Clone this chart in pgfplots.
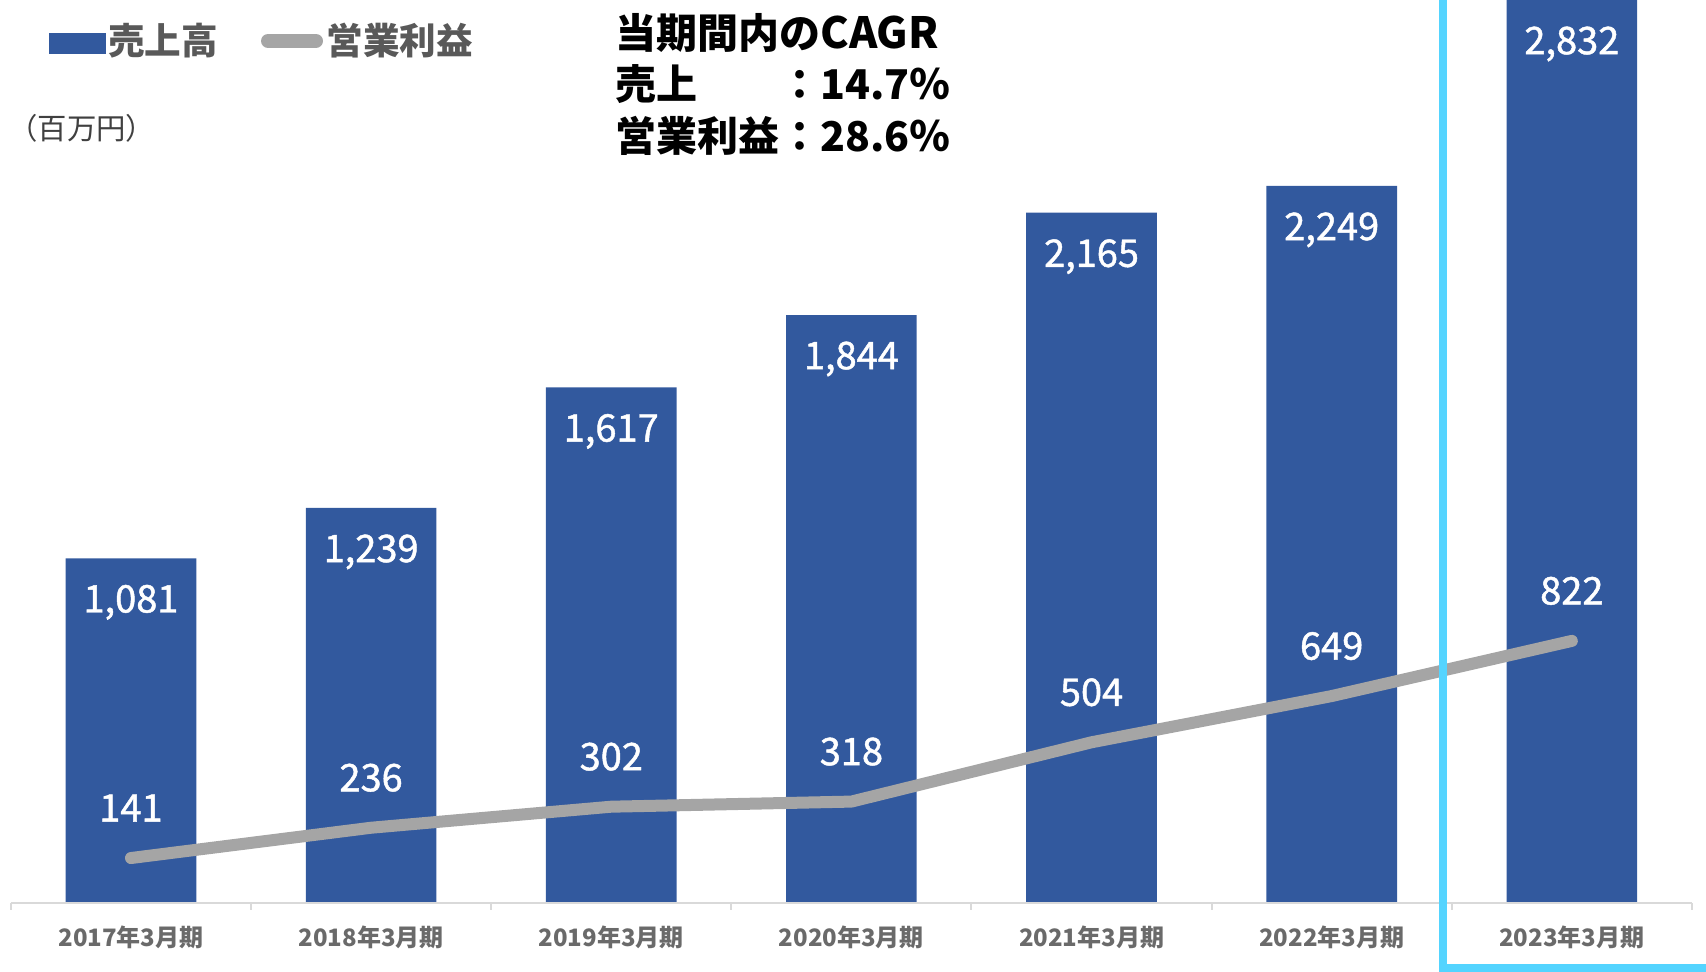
\documentclass[border=0pt]{standalone}
\usepackage{fontspec}
\setmainfont{Noto Sans CJK JP}
\newfontfamily\numfont{Noto Sans CJK JP}[FakeBold=1.2]
\usepackage{pgfplots}
\pgfplotsset{compat=1.18}
\usepackage{pgfplotstable}
\definecolor{barblue}{RGB}{50,89,158}
\definecolor{linegray}{RGB}{165,165,165}
\definecolor{axisgray}{RGB}{217,217,217}
\definecolor{labgray}{RGB}{89,89,89}
\definecolor{unitgray}{RGB}{64,64,64}
\definecolor{framecyan}{RGB}{84,212,255}
\pgfplotstableread{
x y lab
0 1081 1,081
1 1239 1,239
2 1617 1,617
3 1844 1,844
4 2165 2,165
5 2249 2,249
6 2832 2,832
}\sales
\pgfplotstableread{
x y lab
0 141 141
1 236 236
2 302 302
3 318 318
4 504 504
5 649 649
6 822 822
}\profit
\begin{document}
\begin{tikzpicture}[x=1bp,y=1bp]
\path[use as bounding box] (0,0) rectangle (853,486);
\begin{axis}[
  at={(5.45bp,34.5bp)}, anchor=south west,
  scale only axis, width=840.5bp, height=451.5bp,
  xmin=-0.5, xmax=6.5, ymin=0, ymax=2832,
  axis x line=bottom, axis y line=none,
  axis line style={-, draw=axisgray, line width=1.2bp},
  axis on top,
  clip=false,
  xtick={0,...,6},
  xticklabels={2017年3月期,2018年3月期,2019年3月期,2020年3月期,2021年3月期,2022年3月期,2023年3月期},
  major tick length=0pt,
  minor xtick={-0.5,0.5,...,6.5},
  minor tick length=3.5bp,
  xtick align=outside,
  major x tick style={draw=none},
  minor x tick style={draw=axisgray, line width=1bp},
  x tick label style={font=\fontsize{12bp}{12bp}\selectfont\bfseries, text=labgray!90, anchor=center, yshift=-17bp},
]
\addplot[ybar, bar width=0.544, fill=barblue, draw=none] table[x=x,y=y] {\sales};
\addplot[color=linegray, line width=6bp, line cap=round, line join=round, mark=none] table[x=x,y=y] {\profit};
\addplot[draw=none, mark=none, point meta=explicit symbolic, nodes near coords,
  nodes near coords style={anchor=center, yshift=-22bp, text=white, font=\fontsize{19bp}{19bp}\numfont}]
  table[x=x,y=y,meta=lab] {\sales};
\addplot[draw=none, mark=none, point meta=explicit symbolic, nodes near coords,
  nodes near coords style={anchor=center, yshift=25bp, text=white, font=\fontsize{19bp}{19bp}\numfont}]
  table[x=x,y=y,meta=lab] {\profit};
\end{axis}
% legend
\fill[barblue] (24.5,459) rectangle (53,469.5);
\node[anchor=west, inner sep=0, text=labgray, font=\fontsize{18.3bp}{18.3bp}\selectfont\bfseries] at (54,465.5) {売上高};
\draw[linegray, line width=7bp, line cap=round] (134,465.5) -- (158,465.5);
\node[anchor=west, inner sep=0, text=labgray, font=\fontsize{18.3bp}{18.3bp}\selectfont\bfseries] at (163,465.5) {営業利益};
% unit
\node[anchor=west, inner sep=0, text=unitgray, font=\fontsize{14.7bp}{14.7bp}\selectfont] at (4,422) {（百万円）};
% CAGR
\begin{scope}[every node/.style={anchor=west, inner sep=0, text=black, font=\fontsize{20.5bp}{20.5bp}\selectfont\bfseries}]
\node at (307.5,469.5) {当期間内の\fontsize{21.5bp}{21.5bp}\selectfont CAGR};
\node at (307.5,444) {\makebox[4em][l]{売上}：14.7％};
\node at (307.5,418) {営業利益：28.6％};
\end{scope}
% frame
\begin{scope}
\clip (0,0) rectangle (853,486);
\draw[framecyan, line width=4bp] (721.5,490) -- (721.5,2) -- (860,2);
\end{scope}
\end{tikzpicture}
\end{document}
